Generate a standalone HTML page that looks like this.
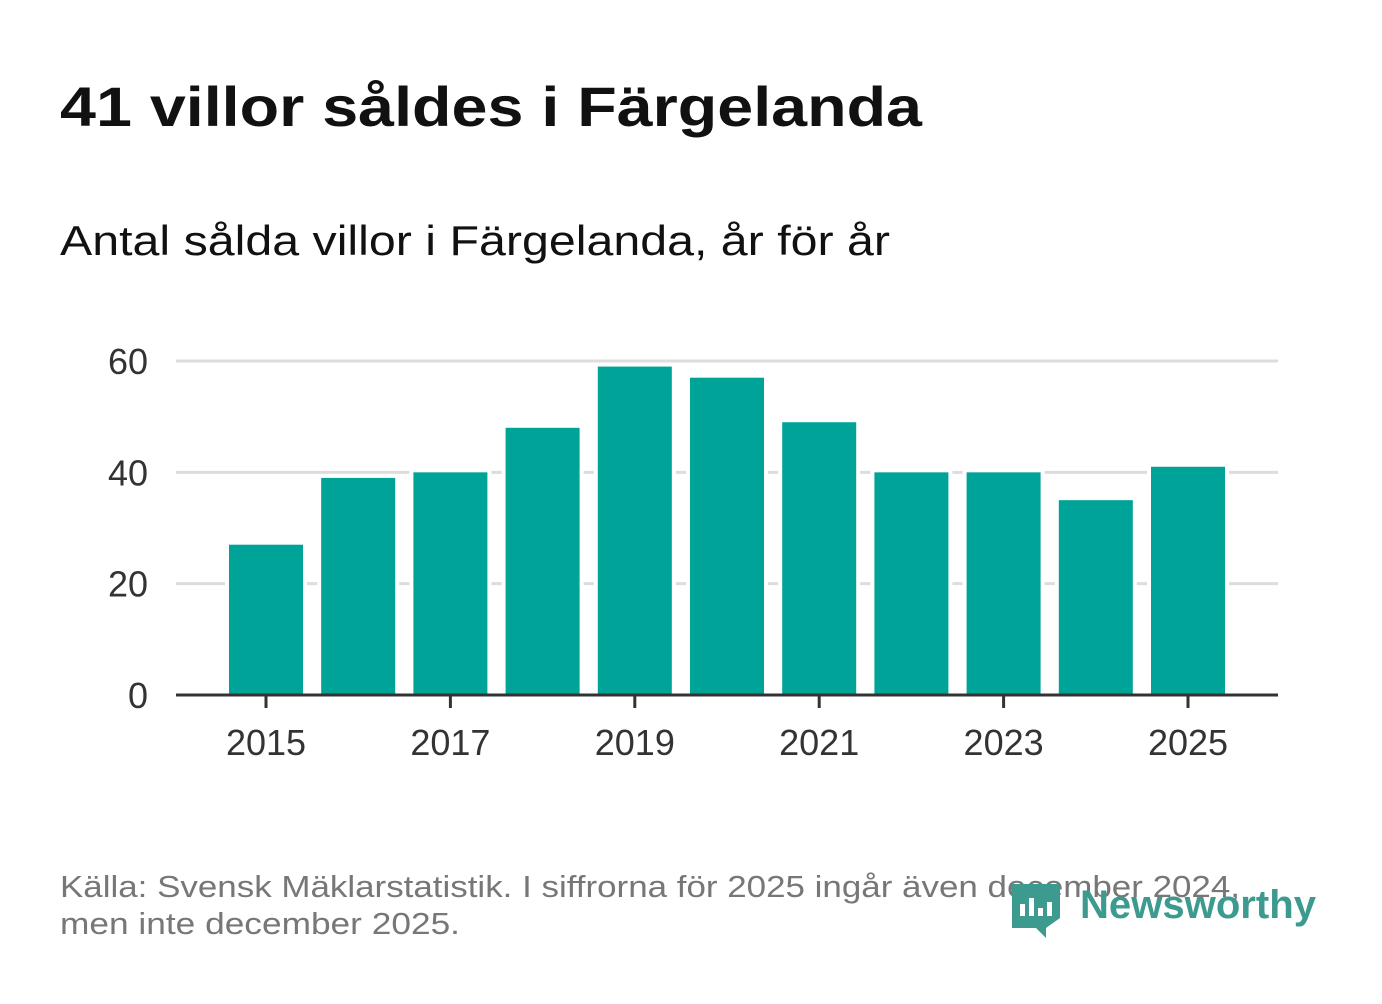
<!DOCTYPE html>
<html><head><meta charset="utf-8"><style>
body{margin:0;width:1382px;height:999px;background:#fff;font-family:"Liberation Sans",sans-serif;overflow:hidden}
</style></head><body>
<svg width="1382" height="999" xmlns="http://www.w3.org/2000/svg">
<text x="60" y="126" font-size="56" font-weight="bold" fill="#111" font-family="Liberation Sans, sans-serif" textLength="862" lengthAdjust="spacingAndGlyphs">41 villor såldes i Färgelanda</text>
<text x="60" y="255" font-size="42" fill="#111" font-family="Liberation Sans, sans-serif" textLength="830" lengthAdjust="spacingAndGlyphs">Antal sålda villor i Färgelanda, år för år</text>
<g id="grid"></g><g id="bars"></g><g id="axes"></g>
<text x="60" y="897" font-size="31" fill="#777" font-family="Liberation Sans, sans-serif" textLength="1180" lengthAdjust="spacingAndGlyphs">Källa: Svensk Mäklarstatistik. I siffrorna för 2025 ingår även december 2024,</text>
<text x="60" y="934" font-size="31" fill="#777" font-family="Liberation Sans, sans-serif" textLength="400" lengthAdjust="spacingAndGlyphs">men inte december 2025.</text>
<g>
<path d="M1012,884 h48 v34 l-14,10 v10 l-10,-10 h-24 z" fill="#3d9a8f"/>
<rect x="1020" y="904" width="5" height="12" fill="#fff"/><rect x="1029" y="898" width="5" height="18" fill="#fff"/><rect x="1038" y="908" width="5" height="8" fill="#fff"/><rect x="1047" y="902" width="5" height="14" fill="#fff"/>
<text x="1080" y="918" font-size="40" font-weight="bold" fill="#3d9a8f" font-family="Liberation Sans, sans-serif" textLength="236" lengthAdjust="spacingAndGlyphs">Newsworthy</text>
</g>
</svg>
<script>
const years=[2015,2016,2017,2018,2019,2020,2021,2022,2023,2024,2025];
const values=[27,39,40,48,59,57,49,40,40,35,41];
const yTicks=[0,20,40,60];
const xTickYears=[2015,2017,2019,2021,2023,2025];
const NS="http://www.w3.org/2000/svg";
const y=v=>695-v*(334/60);
const x=yr=>266+(yr-2015)*92.2;
function mk(t,a,p){const e=document.createElementNS(NS,t);for(const k in a)e.setAttribute(k,a[k]);document.getElementById(p).appendChild(e);return e;}
yTicks.forEach(v=>{
 if(v>0){const l=mk('line',{x1:176,x2:1278,y1:y(v),y2:y(v),stroke:'#ddd','stroke-width':3},'grid');
 
 }
 const t=mk('text',{x:148,y:y(v)+13,'text-anchor':'end','font-size':36,fill:'#333','font-family':'Liberation Sans, sans-serif'},'axes');
 t.textContent=v;
 
 
});
years.forEach((yr,i)=>{
 const r=mk('rect',{x:x(yr)-41,y:y(values[i])-3,width:82,height:695-y(values[i])+3,fill:'#fff'},'bars');
 
 
});
years.forEach((yr,i)=>{
 const r=mk('rect',{x:x(yr)-37,y:y(values[i]),width:74,height:695-y(values[i]),fill:'#00a398'},'bars');
 
 
});
const ax=mk('line',{x1:176,x2:1278,y1:695,y2:695,stroke:'#333','stroke-width':3},'axes');


xTickYears.forEach(yr=>{
 const tk=mk('line',{x1:x(yr),x2:x(yr),y1:695,y2:708,stroke:'#333','stroke-width':3},'axes');
 
 
 const t=mk('text',{x:x(yr),y:755,'text-anchor':'middle','font-size':36,fill:'#333','font-family':'Liberation Sans, sans-serif'},'axes');
 t.textContent=yr;
 
 
});
</script>
</body></html>
